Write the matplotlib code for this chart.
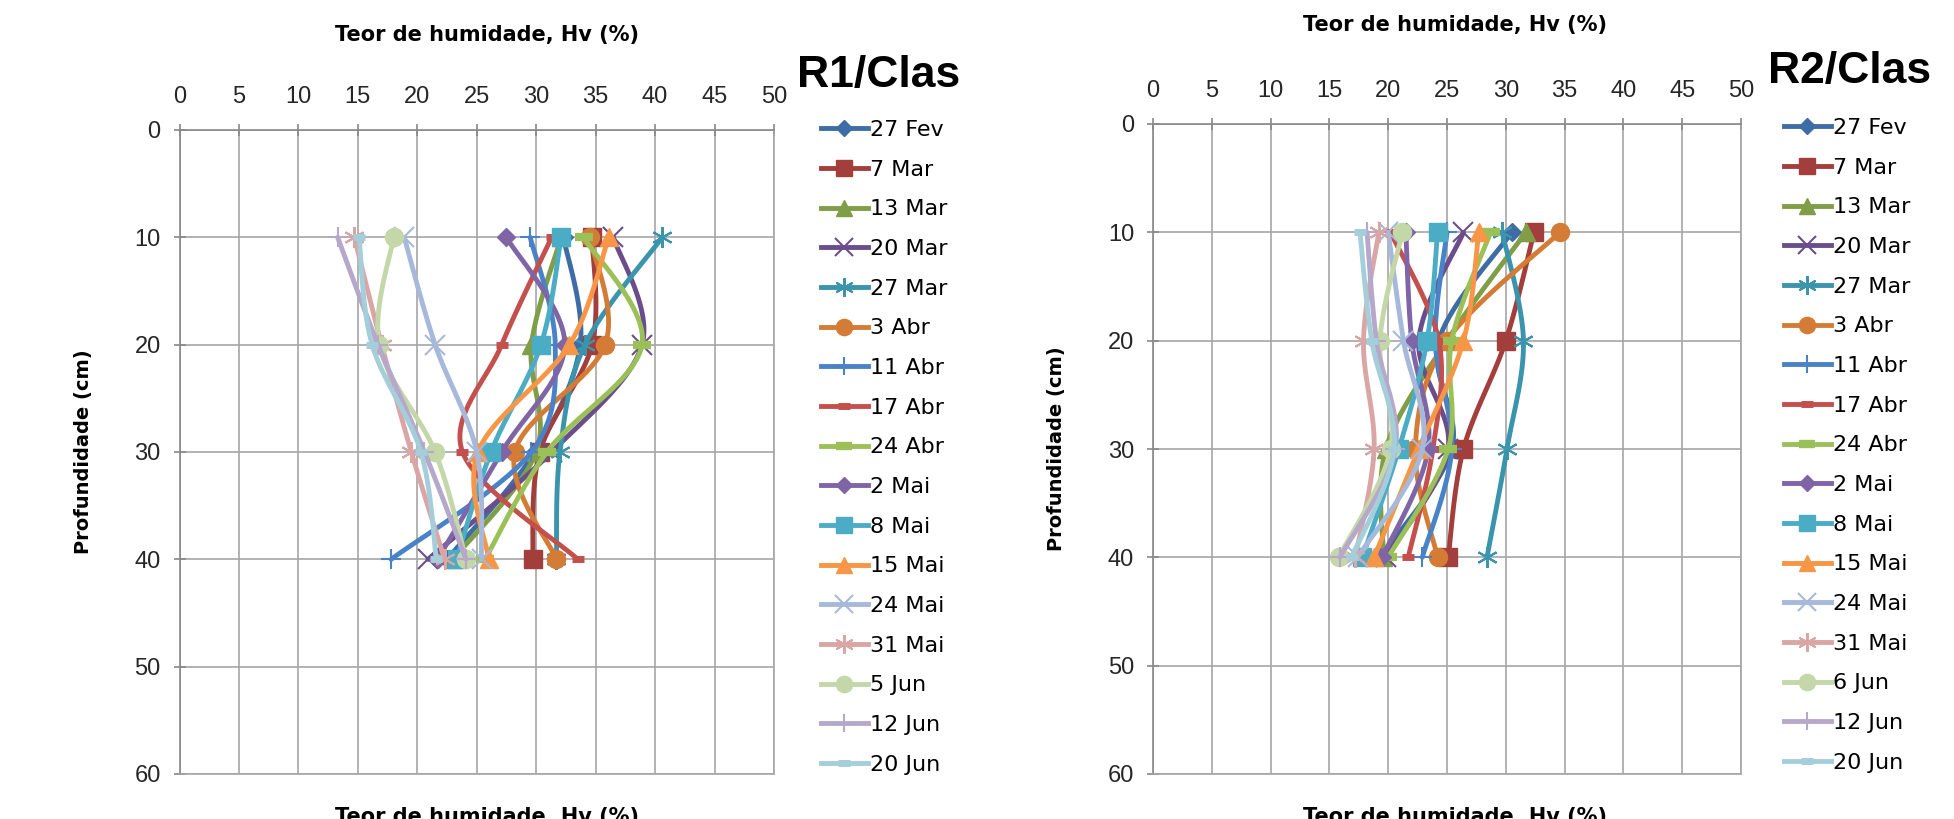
import numpy
import matplotlib
matplotlib.use("Agg")
import matplotlib.pyplot as plt
from matplotlib.lines import Line2D


depths = [10, 20, 30, 40]

labels_r1 = ["27 Fev", "7 Mar", "13 Mar", "20 Mar", "27 Mar", "3 Abr", "11 Abr", "17 Abr",
             "24 Abr", "2 Mai", "8 Mai", "15 Mai", "24 Mai", "31 Mai", "5 Jun", "12 Jun", "20 Jun"]
labels_r2 = ["27 Fev", "7 Mar", "13 Mar", "20 Mar", "27 Mar", "3 Abr", "11 Abr", "17 Abr",
             "24 Abr", "2 Mai", "8 Mai", "15 Mai", "24 Mai", "31 Mai", "6 Jun", "12 Jun", "20 Jun"]

# moisture content Hv (%) at 10, 20, 30, 40 cm
hv_r1 = [
  [32.3, 33.7, 29.9, 22.5],
  [34.7, 34.7, 30.3, 29.7],
  [32.1, 29.6, 30.0, 23.0],
  [36.5, 38.9, 31.3, 20.9],
  [40.6, 34.1, 32.0, 31.7],
  [34.5, 35.8, 28.2, 31.7],
  [29.5, 31.6, 29.6, 17.8],
  [31.3, 27.1, 23.8, 33.5],
  [34.0, 38.9, 30.9, 25.7],
  [27.5, 32.4, 27.1, 21.7],
  [32.1, 30.4, 26.2, 23.3],
  [36.1, 32.8, 25.1, 26.0],
  [18.9, 21.5, 25.0, 25.4],
  [14.7, 17.0, 19.5, 22.3],
  [18.0, 16.8, 21.5, 24.1],
  [13.3, 16.7, 20.6, 24.1],
  [15.1, 16.2, 20.3, 21.6],
]

hv_r2 = [
  [30.5, 24.3, 25.4, 19.3],
  [32.4, 30.0, 26.4, 25.1],
  [31.7, 25.0, 19.8, 19.6],
  [26.4, 22.6, 25.1, 19.8],
  [29.7, 31.5, 30.1, 28.4],
  [34.6, 25.0, 22.3, 24.2],
  [25.0, 24.0, 25.4, 22.9],
  [20.2, 24.3, 23.8, 21.7],
  [28.7, 25.4, 25.1, 20.0],
  [21.5, 22.0, 23.4, 19.5],
  [24.2, 23.3, 20.9, 17.8],
  [27.7, 26.4, 22.6, 18.8],
  [20.0, 21.3, 22.9, 17.4],
  [19.2, 17.9, 18.8, 17.2],
  [21.2, 19.3, 20.2, 15.8],
  [18.2, 19.0, 20.6, 15.9],
  [17.6, 18.6, 20.5, 16.9],
]

colors = ["#3E6DA5", "#A23F3C", "#7F9E47", "#6A4E8C", "#3A94AC", "#D47C35", "#4A82C8", "#C4504D",
          "#9BC057", "#8065A6", "#4BACC6", "#F79646", "#A6B9DA", "#DAA6A5", "#C4D7A8", "#B6A8CB",
          "#A5CEDB"]

# (marker, size, edge width)
star = (6, 2, 0)
markers = [("D", 9, 1), ("s", 13, 1), ("^", 13, 1), ("x", 14, 1.5), (star, 15, 1.5), ("o", 13, 1),
           ("+", 14, 1.5), ("_", 9, 5), ("_", 13, 6),
           ("D", 9, 1), ("s", 13, 1), ("^", 13, 1), ("x", 14, 1.5), (star, 15, 1.5), ("o", 13, 1),
           ("+", 14, 1.5), ("_", 9, 5)]


def bezier_smooth(x, y, sx, sy, n=30):
  # excel-like smoothed line through the points
  p = numpy.column_stack([numpy.asarray(x) * sx, numpy.asarray(y) * sy])
  k = len(p)
  out = []
  t = numpy.linspace(0.0, 1.0, n + 1)[:-1][:, None]
  for i in range(k - 1):
    p0 = p[max(i - 1, 0)]
    p1 = p[i]
    p2 = p[i + 1]
    p3 = p[min(i + 2, k - 1)]
    c1 = p1 + (p2 - p0) / 6.0
    c2 = p2 - (p3 - p1) / 6.0
    seg = ((1 - t) ** 3) * p1 + 3 * ((1 - t) ** 2) * t * c1 + 3 * (1 - t) * t ** 2 * c2 + t ** 3 * p2
    out.append(seg)
  out.append(p[-1:])
  out = numpy.vstack(out)
  return out[:, 0] / sx, out[:, 1] / sy


tick_font = ["Liberation Sans", "DejaVu Sans"]


def draw_panel(ax, data, labels, legend_xy):
  ax.set_xlim(0, 50)
  ax.set_ylim(60, 0)
  ax.set_xticks(numpy.arange(0, 51, 5))
  ax.set_yticks(numpy.arange(0, 61, 10))
  ax.grid(True, color="#A6A6A6", linewidth=1.2)
  ax.set_axisbelow(True)
  ax.xaxis.tick_top()
  ax.tick_params(axis="x", pad=11)
  ax.tick_params(axis="y", pad=9)
  ax.tick_params(axis="both", direction="inout", length=9, width=1.2, color="#888888",
                 labelsize=17)
  for lab in ax.get_xticklabels() + ax.get_yticklabels():
    lab.set_family(tick_font)
    lab.set_color("#262626")
  for s in ax.spines.values():
    s.set_color("#A6A6A6")
    s.set_linewidth(1.2)
  ax.spines["top"].set_color("#888888")
  ax.spines["left"].set_color("#888888")

  handles = []
  for i in range(len(data)):
    sx, sy = bezier_smooth(data[i], depths, 11.88, 10.75)
    ax.plot(sx, sy, color=colors[i], linewidth=3.5, solid_capstyle="round", zorder=3 + i)
    m, ms, mew = markers[i]
    ax.plot(data[i], depths, linestyle="none", marker=m, markersize=ms, markeredgewidth=mew,
            color=colors[i], zorder=3 + i, clip_on=False)
    handles.append(Line2D([], [], color=colors[i], linewidth=3.5, marker=m, markersize=ms * 0.9,
                          markeredgewidth=mew))

  fig.legend(handles, labels, loc="upper left", bbox_to_anchor=legend_xy, frameon=False,
             fontsize=16, handlelength=2.1, handletextpad=0.1, labelspacing=0.885,
             borderaxespad=0, borderpad=0)
  return handles


fig = plt.figure(figsize=(19.54, 8.19), dpi=100)
W = 1954.0
H = 819.0

ax1 = fig.add_axes([179.5 / W, 1 - 774 / H, 594.5 / W, (774 - 130) / H])
ax2 = fig.add_axes([1153 / W, 1 - 774 / H, 588 / W, (774 - 124) / H])

draw_panel(ax1, hv_r1, labels_r1, (821 / W, 1 - 120 / H))
draw_panel(ax2, hv_r2, labels_r2, (1784 / W, 1 - 118 / H))

for ax in (ax1, ax2):
  ax.set_ylabel("Profundidade (cm)", fontsize=14, fontweight="bold", labelpad=30)

fig.text(487 / W, 1 - 35 / H, "Teor de humidade, Hv (%)", fontsize=15, fontweight="bold",
         ha="center", va="center")
fig.text(1455 / W, 1 - 25 / H, "Teor de humidade, Hv (%)", fontsize=15, fontweight="bold",
         ha="center", va="center")
fig.text(487 / W, 1 - 807 / H, "Teor de humidade, Hv (%)", fontsize=15, fontweight="bold",
         ha="center", va="top")
fig.text(1455 / W, 1 - 807 / H, "Teor de humidade, Hv (%)", fontsize=15, fontweight="bold",
         ha="center", va="top")

fig.text(879 / W, 1 - 75 / H, "R1/Clas", fontsize=32, fontweight="bold", ha="center", va="center",
         family=tick_font)
fig.text(1850 / W, 1 - 72 / H, "R2/Clas", fontsize=32, fontweight="bold", ha="center", va="center",
         family=tick_font)

fig.savefig("out.png", dpi=100)
